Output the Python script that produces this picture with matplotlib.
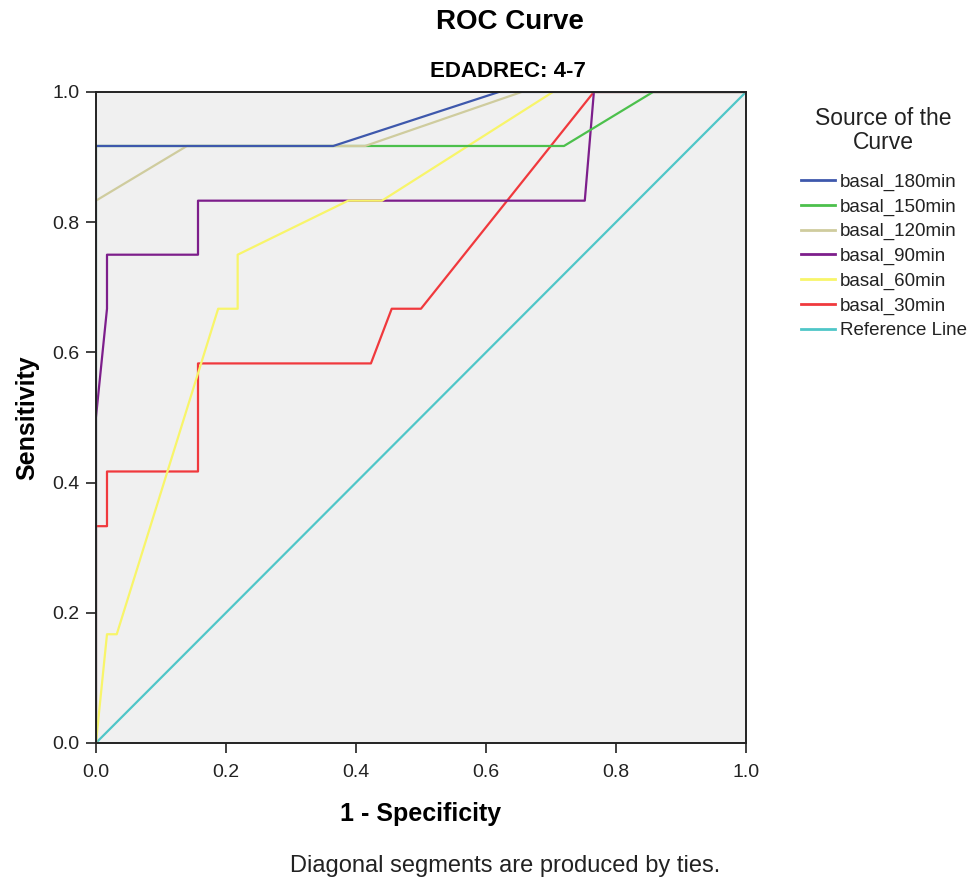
import matplotlib
matplotlib.use('Agg')
import matplotlib.pyplot as plt

plt.rcParams['font.family'] = ['Liberation Sans', 'DejaVu Sans']

# pontos (1 - especificidade, sensibilidade)
fpr_180 = [0.0, 0.0, 0.365, 0.62, 1.0]
tpr_180 = [0.0, 0.917, 0.917, 1.0, 1.0]

fpr_150 = [0.0, 0.0, 0.72, 0.857, 1.0]
tpr_150 = [0.0, 0.917, 0.917, 1.0, 1.0]

fpr_120 = [0.0, 0.0, 0.14, 0.414, 0.655, 1.0]
tpr_120 = [0.0, 0.833, 0.917, 0.917, 1.0, 1.0]

fpr_90 = [0.0, 0.0, 0.017, 0.017, 0.157, 0.157, 0.752, 0.766, 1.0]
tpr_90 = [0.0, 0.5, 0.667, 0.75, 0.75, 0.833, 0.833, 1.0, 1.0]

fpr_60 = [0.0, 0.017, 0.032, 0.188, 0.218, 0.218, 0.388, 0.44, 0.703, 1.0]
tpr_60 = [0.0, 0.167, 0.167, 0.667, 0.667, 0.75, 0.833, 0.833, 1.0, 1.0]

fpr_30 = [0.0, 0.0, 0.017, 0.017, 0.157, 0.157, 0.423, 0.455, 0.50, 0.766, 1.0]
tpr_30 = [0.0, 0.333, 0.333, 0.417, 0.417, 0.583, 0.583, 0.667, 0.667, 1.0, 1.0]

ref_x = [0.0, 1.0]
ref_y = [0.0, 1.0]

series = [
    ('basal_180min', fpr_180, tpr_180, '#3E58AC'),
    ('basal_150min', fpr_150, tpr_150, '#4CC04C'),
    ('basal_120min', fpr_120, tpr_120, '#CFCC9E'),
    ('basal_90min', fpr_90, tpr_90, '#7D1E8B'),
    ('basal_60min', fpr_60, tpr_60, '#F8F56A'),
    ('basal_30min', fpr_30, tpr_30, '#F0393D'),
    ('Reference Line', ref_x, ref_y, '#4FC6C8'),
]
# ordem de desenho (o ultimo fica por cima)
ordem = [6, 5, 3, 4, 1, 2, 0]

fig = plt.figure(figsize=(9.79, 8.85), dpi=100)
ax = fig.add_axes([0.098, 0.1605, 0.664, 0.7356])
ax.set_facecolor('#F0F0F0')

linhas = {}
for i in ordem:
    nome, xs, ys, cor = series[i]
    linhas[i], = ax.plot(xs, ys, color=cor, lw=1.6, label=nome)

ax.set_xlim(0, 1)
ax.set_ylim(0, 1)
ticks = [0.0, 0.2, 0.4, 0.6, 0.8, 1.0]
ax.set_xticks(ticks)
ax.set_yticks(ticks)
ax.set_xticklabels([f'{t:.1f}' for t in ticks])
ax.set_yticklabels([f'{t:.1f}' for t in ticks])
ax.tick_params(direction='out', length=7, width=1.3, labelsize=14,
               color='#333333', labelcolor='#222222')
ax.tick_params(axis='x', pad=8)
ax.tick_params(axis='y', pad=5)
for s in ax.spines.values():
    s.set_linewidth(1.4)
    s.set_color('#222222')

ax.set_xlabel('1 - Specificity', fontsize=18, fontweight='bold', labelpad=15)
ax.set_ylabel('Sensitivity', fontsize=18, fontweight='bold', labelpad=9)

fig.text(0.521, 0.975, 'ROC Curve', ha='center', va='center', fontsize=20, fontweight='bold')
fig.text(0.519, 0.919, 'EDADREC: 4-7', ha='center', va='center', fontsize=16, fontweight='bold')
fig.text(0.5155, 0.021, 'Diagonal segments are produced by ties.', ha='center', va='center',
         fontsize=17, color='#222222')

handles = [linhas[i] for i in range(len(series))]
labels = [s[0] for s in series]
leg = fig.legend(handles, labels, loc='upper left', bbox_to_anchor=(0.818, 0.879),
                 frameon=False, fontsize=13.5, title='Source of the\nCurve',
                 title_fontsize=16.5, handlelength=1.8, handletextpad=0.27,
                 labelspacing=0.4, borderaxespad=0, borderpad=0,
                 alignment='center')
leg.get_title().set_multialignment('center')
leg.get_title().set_linespacing(1.05)
leg.get_title().set_color('#222222')
leg._legend_box.sep = 14
for t in leg.get_texts():
    t.set_color('#222222')
for line in leg.get_lines():
    line.set_linewidth(2)

fig.savefig('out.png', dpi=100)
plt.close(fig)
